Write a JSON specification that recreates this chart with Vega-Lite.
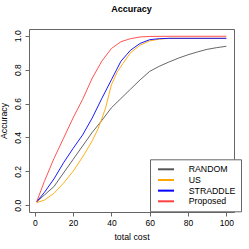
{
  "$schema": "https://vega.github.io/schema/vega-lite/v6.json",
  "autosize": {"type": "none"},
  "width": 205,
  "height": 183,
  "padding": {"left": 29, "top": 29, "right": 15, "bottom": 37},
  "background": "white",
  "title": {"text": "Accuracy", "font": "Liberation Sans", "fontSize": 9, "fontWeight": "bold", "color": "black", "offset": 8.5, "baseline": "alphabetic", "anchor": "middle"},
  "config": {
    "view": {"stroke": "#666666", "strokeWidth": 1},
    "axis": {"grid": false, "domain": false, "tickColor": "#666666", "tickSize": 4, "labelFont": "Liberation Sans", "labelFontSize": 8.5, "labelColor": "black", "titleFont": "Liberation Sans", "titleFontSize": 8.8, "titleFontWeight": "normal", "titleColor": "black"},
    "legend": {"labelFont": "Liberation Sans", "labelFontSize": 8.75, "labelColor": "black"}
  },
  "data": {"values": [
    {"cost": 1, "acc": 0.02, "method": "RANDOM"},
    {"cost": 5, "acc": 0.06, "method": "RANDOM"},
    {"cost": 10, "acc": 0.11, "method": "RANDOM"},
    {"cost": 15, "acc": 0.19, "method": "RANDOM"},
    {"cost": 20, "acc": 0.27, "method": "RANDOM"},
    {"cost": 25, "acc": 0.35, "method": "RANDOM"},
    {"cost": 30, "acc": 0.43, "method": "RANDOM"},
    {"cost": 35, "acc": 0.5, "method": "RANDOM"},
    {"cost": 40, "acc": 0.575, "method": "RANDOM"},
    {"cost": 45, "acc": 0.63, "method": "RANDOM"},
    {"cost": 50, "acc": 0.685, "method": "RANDOM"},
    {"cost": 55, "acc": 0.74, "method": "RANDOM"},
    {"cost": 60, "acc": 0.79, "method": "RANDOM"},
    {"cost": 65, "acc": 0.82, "method": "RANDOM"},
    {"cost": 70, "acc": 0.845, "method": "RANDOM"},
    {"cost": 75, "acc": 0.868, "method": "RANDOM"},
    {"cost": 80, "acc": 0.888, "method": "RANDOM"},
    {"cost": 85, "acc": 0.905, "method": "RANDOM"},
    {"cost": 90, "acc": 0.92, "method": "RANDOM"},
    {"cost": 95, "acc": 0.93, "method": "RANDOM"},
    {"cost": 100, "acc": 0.938, "method": "RANDOM"},
    {"cost": 1, "acc": 0.015, "method": "US"},
    {"cost": 5, "acc": 0.03, "method": "US"},
    {"cost": 10, "acc": 0.07, "method": "US"},
    {"cost": 15, "acc": 0.13, "method": "US"},
    {"cost": 20, "acc": 0.2, "method": "US"},
    {"cost": 25, "acc": 0.285, "method": "US"},
    {"cost": 30, "acc": 0.38, "method": "US"},
    {"cost": 33, "acc": 0.45, "method": "US"},
    {"cost": 35, "acc": 0.51, "method": "US"},
    {"cost": 37, "acc": 0.575, "method": "US"},
    {"cost": 40, "acc": 0.71, "method": "US"},
    {"cost": 43, "acc": 0.785, "method": "US"},
    {"cost": 46, "acc": 0.836, "method": "US"},
    {"cost": 50, "acc": 0.9, "method": "US"},
    {"cost": 55, "acc": 0.945, "method": "US"},
    {"cost": 60, "acc": 0.97, "method": "US"},
    {"cost": 65, "acc": 0.98, "method": "US"},
    {"cost": 70, "acc": 0.985, "method": "US"},
    {"cost": 100, "acc": 0.985, "method": "US"},
    {"cost": 1, "acc": 0.02, "method": "STRADDLE"},
    {"cost": 5, "acc": 0.075, "method": "STRADDLE"},
    {"cost": 10, "acc": 0.155, "method": "STRADDLE"},
    {"cost": 15, "acc": 0.25, "method": "STRADDLE"},
    {"cost": 20, "acc": 0.335, "method": "STRADDLE"},
    {"cost": 25, "acc": 0.415, "method": "STRADDLE"},
    {"cost": 30, "acc": 0.515, "method": "STRADDLE"},
    {"cost": 35, "acc": 0.63, "method": "STRADDLE"},
    {"cost": 40, "acc": 0.74, "method": "STRADDLE"},
    {"cost": 45, "acc": 0.85, "method": "STRADDLE"},
    {"cost": 50, "acc": 0.915, "method": "STRADDLE"},
    {"cost": 55, "acc": 0.955, "method": "STRADDLE"},
    {"cost": 60, "acc": 0.977, "method": "STRADDLE"},
    {"cost": 65, "acc": 0.983, "method": "STRADDLE"},
    {"cost": 70, "acc": 0.985, "method": "STRADDLE"},
    {"cost": 100, "acc": 0.985, "method": "STRADDLE"},
    {"cost": 1, "acc": 0.02, "method": "Proposed"},
    {"cost": 5, "acc": 0.14, "method": "Proposed"},
    {"cost": 10, "acc": 0.275, "method": "Proposed"},
    {"cost": 15, "acc": 0.395, "method": "Proposed"},
    {"cost": 20, "acc": 0.515, "method": "Proposed"},
    {"cost": 25, "acc": 0.625, "method": "Proposed"},
    {"cost": 30, "acc": 0.75, "method": "Proposed"},
    {"cost": 35, "acc": 0.85, "method": "Proposed"},
    {"cost": 40, "acc": 0.925, "method": "Proposed"},
    {"cost": 45, "acc": 0.965, "method": "Proposed"},
    {"cost": 50, "acc": 0.983, "method": "Proposed"},
    {"cost": 55, "acc": 0.993, "method": "Proposed"},
    {"cost": 60, "acc": 0.996, "method": "Proposed"},
    {"cost": 70, "acc": 0.997, "method": "Proposed"},
    {"cost": 100, "acc": 0.997, "method": "Proposed"}
  ]},
  "mark": {"type": "line", "strokeWidth": 0.9, "clip": true},
  "encoding": {
    "x": {"field": "cost", "type": "quantitative", "scale": {"domain": [-3, 104], "nice": false, "zero": false},
      "axis": {"title": "total cost", "values": [0, 20, 40, 60, 80, 100], "labelPadding": 2, "titlePadding": 6}},
    "y": {"field": "acc", "type": "quantitative", "scale": {"domain": [-0.04, 1.04], "nice": false, "zero": false},
      "axis": {"title": "Accuracy", "values": [0, 0.2, 0.4, 0.6, 0.8, 1.0], "format": ".1f", "labelAngle": 270, "labelAlign": "center", "labelBaseline": "bottom", "labelPadding": 3, "titlePadding": 5}},
    "color": {"field": "method", "type": "nominal",
      "scale": {"domain": ["RANDOM", "US", "STRADDLE", "Proposed"], "range": ["#555555", "#FFA500", "#0000FF", "#FF4040"]},
      "legend": {"title": null, "orient": "none", "legendX": 121, "legendY": 130.3, "strokeColor": "#666666", "fillColor": "white", "padding": 5,
        "symbolType": "M-2,0H2", "symbolSize": 64, "symbolStrokeWidth": 2, "symbolOffset": 6, "labelOffset": 17.7, "rowPadding": 0.67}}
  }
}
